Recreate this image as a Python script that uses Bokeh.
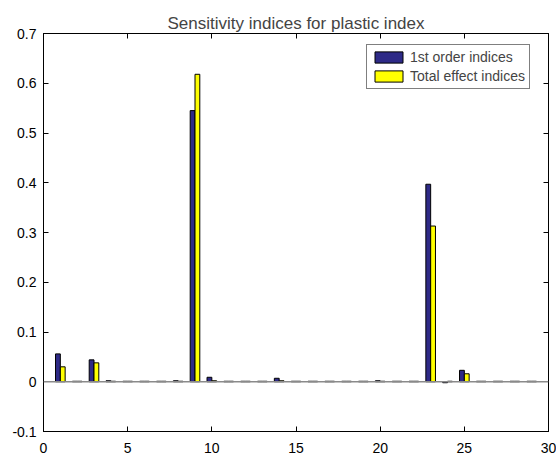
from bokeh.plotting import figure
from bokeh.models import (ColumnDataSource, Span, Legend, LegendItem, LinearAxis, FixedTicker,
                          Range1d, CustomJSTickFormatter)
from bokeh.embed import file_html
from bokeh.resources import INLINE

params = list(range(1, 30))
first_order = [0.056, 0.001, 0.044, 0.002, 0.001, 0.001, 0.001, 0.002, 0.545, 0.009,
               0.001, 0.001, 0.001, 0.007, 0.001, 0.001, 0.001, 0.001, 0.001, 0.002,
               0.001, 0.001, 0.397, -0.002, 0.023, 0.001, 0.001, 0.001, 0.001]
total_effect = [0.030, 0.001, 0.038, 0.001, 0.001, 0.001, 0.001, 0.001, 0.618, 0.002,
                0.001, 0.001, 0.001, 0.002, 0.001, 0.001, 0.001, 0.001, 0.001, 0.001,
                0.001, 0.001, 0.313, 0.001, 0.016, 0.001, 0.001, 0.001, 0.001]
series_names = ["1st order indices", "Total effect indices"]
colors = ["#2E2A87", "#FFFF00"]
x_ticks = [0, 5, 10, 15, 20, 25, 30]
y_ticks = [-0.1, 0, 0.1, 0.2, 0.3, 0.4, 0.5, 0.6, 0.7]
y_labels = ["-0.1", "0", "0.1", "0.2", "0.3", "0.4", "0.5", "0.6", "0.7"]

FONT = "Liberation Sans"
bar_w = 2 / 7.0
off = bar_w / 2

p = figure(width=556, height=457, output_backend="svg", toolbar_location=None,
           x_range=Range1d(0, 30), y_range=Range1d(-0.1, 0.7),
           min_border_left=43, min_border_right=8, min_border_top=33, min_border_bottom=26)
p.title.text = "Sensitivity indices for plastic index"
p.title.align = "center"
p.title.text_font = FONT
p.title.text_font_size = "17px"
p.title.text_font_style = "normal"
p.title.standoff = 1

p.grid.visible = False
p.outline_line_color = "black"
p.background_fill_color = "white"
p.border_fill_color = "white"

src = ColumnDataSource(dict(x1=[v - off for v in params], x2=[v + off for v in params],
                            a=first_order, b=total_effect))
r1 = p.vbar(x="x1", top="a", bottom=0, width=bar_w, source=src,
            fill_color=colors[0], line_color="black", line_width=1)
r2 = p.vbar(x="x2", top="b", bottom=0, width=bar_w, source=src,
            fill_color=colors[1], line_color="black", line_width=1)

p.add_layout(Span(location=0, dimension="width", line_color="#8a8a8a", line_width=1.5))

for ax in p.xaxis + p.yaxis:
    ax.major_tick_in = 5
    ax.major_tick_out = 0
    ax.minor_tick_line_color = None
    ax.axis_line_color = "black"
    ax.major_tick_line_color = "black"
    ax.major_label_text_font = FONT
    ax.major_label_text_font_size = "14px"
    ax.major_label_text_color = "black"
p.xaxis.ticker = FixedTicker(ticks=x_ticks)
p.yaxis.ticker = FixedTicker(ticks=y_ticks)
p.yaxis.major_label_overrides = {t: l for t, l in zip(y_ticks, y_labels)}
p.xaxis.major_label_standoff = 11
p.yaxis.major_label_standoff = 7

blank = CustomJSTickFormatter(code="return '';")
right = LinearAxis(ticker=FixedTicker(ticks=y_ticks), formatter=blank,
                   major_tick_in=5, major_tick_out=0, minor_tick_line_color=None,
                   axis_line_color="black", major_label_standoff=0)
top = LinearAxis(ticker=FixedTicker(ticks=x_ticks), formatter=blank,
                 major_tick_in=5, major_tick_out=0, minor_tick_line_color=None,
                 axis_line_color="black", major_label_standoff=0)
p.add_layout(right, "right")
p.add_layout(top, "above")

legend = Legend(items=[LegendItem(label=series_names[0], renderers=[r1]),
                       LegendItem(label=series_names[1], renderers=[r2])],
                location=(323, 342))
legend.label_text_font = FONT
legend.label_text_font_size = "14px"
legend.glyph_width = 35
legend.glyph_height = 14
legend.spacing = 3
legend.padding = 4
legend.margin = 0
legend.label_standoff = 4
legend.label_height = 14
legend.border_line_color = "black"
legend.border_line_width = 1
p.add_layout(legend)

open("out.html", "w").write(file_html(p, INLINE))
